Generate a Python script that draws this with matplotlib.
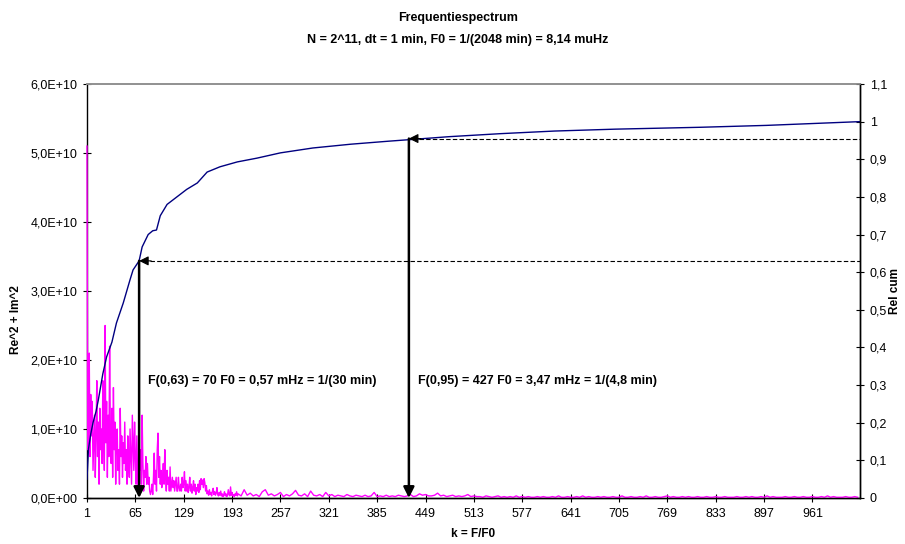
import numpy as np
import matplotlib
matplotlib.use("Agg")
from matplotlib import pyplot as plt

plt.rcParams["font.family"] = ["Liberation Sans", "DejaVu Sans"]

# spectrum Re^2 + Im^2, units of 1E9, k = 1..200
spectrum_head = [
    51, 7, 12, 21, 6, 15, 9, 14, 4, 8,
    12, 3, 9, 17, 6, 11, 2, 13, 7, 10,
    5, 17, 9, 4, 25, 8, 14, 3, 12, 6,
    22, 9, 5, 13, 3, 16, 7, 11, 2, 8,
    10, 4, 7, 2, 13, 6, 9, 3, 8, 5,
    11, 4, 7, 2, 9, 5, 3, 10, 6, 2,
    12, 8, 4, 11, 6, 2, 9, 3, 1, 5,
    4, 7, 2, 12, 5, 1, 4, 3, 6, 2,
    5, 2, 3, 1, 0.5, 1, 2, 0.5, 3, 6.5,
    2, 4, 1, 7, 9.4, 3, 6, 2, 4, 1.5,
    3, 5, 2, 7, 3, 1, 4, 2, 3, 1,
    4.5, 1, 2, 3, 1.5, 2.5, 1, 2, 3, 1,
    1, 3, 1.5, 1, 2, 1, 3, 1.5, 2, 3.8,
    1, 2.5, 1, 2, 0.8, 1.5, 3, 1, 2, 0.7,
    1.5, 2.5, 1, 2, 0.5, 1.5, 1, 2, 0.8, 2.5,
    1.2, 2.8, 2, 2.6, 1.5, 2.8, 2.2, 1, 1.8, 0.6,
    1, 0.4, 1.2, 0.5, 0.8, 0.3, 1, 1.4, 0.5, 0.9,
    0.4, 0.7, 1.5, 0.5, 0.3, 0.8, 0.4, 1, 0.3, 0.6,
    0.2, 0.5, 0.9, 0.3, 0.6, 0.2, 0.4, 1.2, 0.5, 0.3,
    1.6, 0.4, 0.8, 0.3, 0.5, 0.2, 0.6, 0.4, 0.9, 0.3,
]

# tail, read every 4th k from 201 to 1021, units of 1E9
spectrum_tail = [
    0.6, 0.3, 1.2, 0.4, 0.7, 0.3, 0.5, 0.2, 0.9, 1.2,
    0.4, 0.6, 0.3, 0.5, 0.8, 0.2, 0.5, 0.3, 0.6, 1.1,
    0.4, 0.3, 0.6, 0.2, 1.0, 0.4, 0.3, 0.5, 0.2, 0.8,
    0.3, 0.5, 0.2, 0.4, 0.3, 0.2, 0.5, 0.3, 0.2, 0.4,
    0.3, 0.2, 0.4, 0.2, 0.3, 0.8, 0.2, 0.3, 0.2, 0.4,
    0.2, 0.3, 0.2, 0.4, 0.3, 0.2, 0.3, 0.5, 0.2, 0.3,
    0.6, 0.4, 0.5, 0.3, 0.3, 0.4, 0.7, 0.3, 0.4, 0.2,
    0.3, 0.4, 0.2, 0.3, 0.2, 0.3, 0.5, 0.2, 0.3, 0.2,
    0.2, 0.1, 0.3, 0.2, 0.1, 0.2, 0.3, 0.1, 0.2, 0.1,
    0.2, 0.1, 0.3, 0.1, 0.2, 0.1, 0.2, 0.1, 0.1, 0.2,
    0.1, 0.2, 0.1, 0.1, 0.2, 0.1, 0.3, 0.1, 0.1, 0.2,
    0.1, 0.1, 0.2, 0.1, 0.3, 0.1, 0.2, 0.1, 0.1, 0.2,
    0.1, 0.2, 0.1, 0.1, 0.2, 0.1, 0.1, 0.3, 0.1, 0.1,
    0.2, 0.1, 0.1, 0.2, 0.1, 0.3, 0.1, 0.1, 0.2, 0.1,
    0.1, 0.2, 0.3, 0.1, 0.2, 0.1, 0.1, 0.2, 0.1, 0.2,
    0.1, 0.1, 0.2, 0.1, 0.1, 0.2, 0.1, 0.1, 0.2, 0.1,
    0.1, 0.2, 0.1, 0.1, 0.1, 0.2, 0.1, 0.1, 0.2, 0.1,
    0.2, 0.1, 0.1, 0.2, 0.1, 0.3, 0.1, 0.2, 0.1, 0.1,
    0.1, 0.2, 0.1, 0.1, 0.2, 0.1, 0.1, 0.2, 0.1, 0.1,
    0.2, 0.1, 0.1, 0.2, 0.1, 0.3, 0.1, 0.2, 0.1, 0.1,
    0.1, 0.2, 0.1, 0.1, 0.2, 0.1,
]

# relative cumulative curve
cum_k = [1, 3, 6, 9, 13, 16, 22, 27, 34, 40, 49, 58, 62, 70, 74, 82, 88, 93,
         98, 107, 120, 133, 147, 160, 177, 200, 226, 257, 300, 350, 400, 427,
         480, 548, 620, 700, 813, 900, 1024]
cum_val = [0.05, 0.13, 0.17, 0.20, 0.23, 0.26, 0.33, 0.375, 0.414, 0.465,
           0.518, 0.58, 0.606, 0.63, 0.667, 0.70, 0.71, 0.712, 0.75, 0.78,
           0.80, 0.82, 0.837, 0.866, 0.88, 0.893, 0.903, 0.917, 0.93, 0.94,
           0.948, 0.952, 0.96, 0.968, 0.975, 0.98, 0.985, 0.99, 1.0]

markers = [(70, 0.63, "F(0,63) = 70 F0 = 0,57 mHz = 1/(30 min)"),
           (427, 0.955, "F(0,95) = 427 F0 = 3,47 mHz = 1/(4,8 min)")]

x_ticks = list(range(1, 1024, 64))
left_ticks = [0, 1e10, 2e10, 3e10, 4e10, 5e10, 6e10]
left_labels = ["0,0E+00", "1,0E+10", "2,0E+10", "3,0E+10", "4,0E+10", "5,0E+10", "6,0E+10"]
right_ticks = [i / 10 for i in range(12)]
right_labels = ["0", "0,1", "0,2", "0,3", "0,4", "0,5", "0,6", "0,7", "0,8", "0,9", "1", "1,1"]

k_head = np.arange(1, len(spectrum_head) + 1)
k_tail = np.arange(201, 201 + 4 * len(spectrum_tail), 4)
k_all = np.concatenate([k_head, k_tail])
s_all = np.concatenate([spectrum_head, spectrum_tail]) * 1e9

fig = plt.figure(figsize=(9.05, 5.44), dpi=100)
ax = fig.add_axes([0.0961, 0.0846, 0.8542, 0.761])
ax2 = ax.twinx()

ax.plot(k_all, s_all, color="#FF00FF", lw=1.0, zorder=3, clip_on=False)
ax2.plot(cum_k, cum_val, color="#000080", lw=1.0)

ax.set_xlim(1, 1024)
ax.set_ylim(0, 6e10)
ax2.set_ylim(0, 1.1)

ax.set_xticks(x_ticks)
ax.set_xticklabels([str(t) for t in x_ticks], fontsize=9)
ax.set_yticks(left_ticks)
ax.set_yticklabels(left_labels, fontsize=9)
ax2.set_yticks(right_ticks)
ax2.set_yticklabels(right_labels, fontsize=9)
for a in (ax, ax2):
    a.tick_params(direction="inout", length=6, width=0.8, pad=4)
    a.spines["top"].set_color("#909090")
    a.spines["top"].set_linewidth(1.2)
    a.spines["bottom"].set_linewidth(1.0)
    a.spines["left"].set_linewidth(1.0)
    a.spines["right"].set_linewidth(1.0)
ax2.spines["left"].set_visible(False)
ax.spines["left"].set_zorder(2)

ax.set_xlabel("k = F/F0", fontsize=8.5, fontweight="bold", labelpad=6)
ax.set_ylabel("Re^2 + Im^2", fontsize=8.5, fontweight="bold", labelpad=8)
ax.yaxis.set_label_coords(-0.084, 0.43)
ax2.set_ylabel("Rel cum", fontsize=8.5, fontweight="bold")
ax2.yaxis.set_label_coords(1.038, 0.5)

for k, v, label in markers:
    ax2.annotate("", xy=(k, 0.0), xytext=(k, v),
                 arrowprops=dict(arrowstyle="-|>", color="black", lw=1.8,
                                 mutation_scale=16, shrinkA=0, shrinkB=0))
    ax2.hlines(v, k + 14, 1024, colors="black", linestyles=(0, (4, 2)), lw=0.8)
    ax2.annotate("", xy=(k, v), xytext=(k + 16, v),
                 arrowprops=dict(arrowstyle="-|>", color="black", lw=0.8,
                                 mutation_scale=14, shrinkA=0, shrinkB=0))
    ax2.text(k + 12, 0.31, label, fontsize=9, fontweight="bold", va="center")

fig.text(0.506, 0.967, "Frequentiespectrum", ha="center", va="center",
         fontsize=9, fontweight="bold")
fig.text(0.506, 0.927, "N = 2^11, dt = 1 min, F0 = 1/(2048 min) = 8,14 muHz",
         ha="center", va="center", fontsize=9, fontweight="bold")

fig.savefig("out.png", dpi=100)
